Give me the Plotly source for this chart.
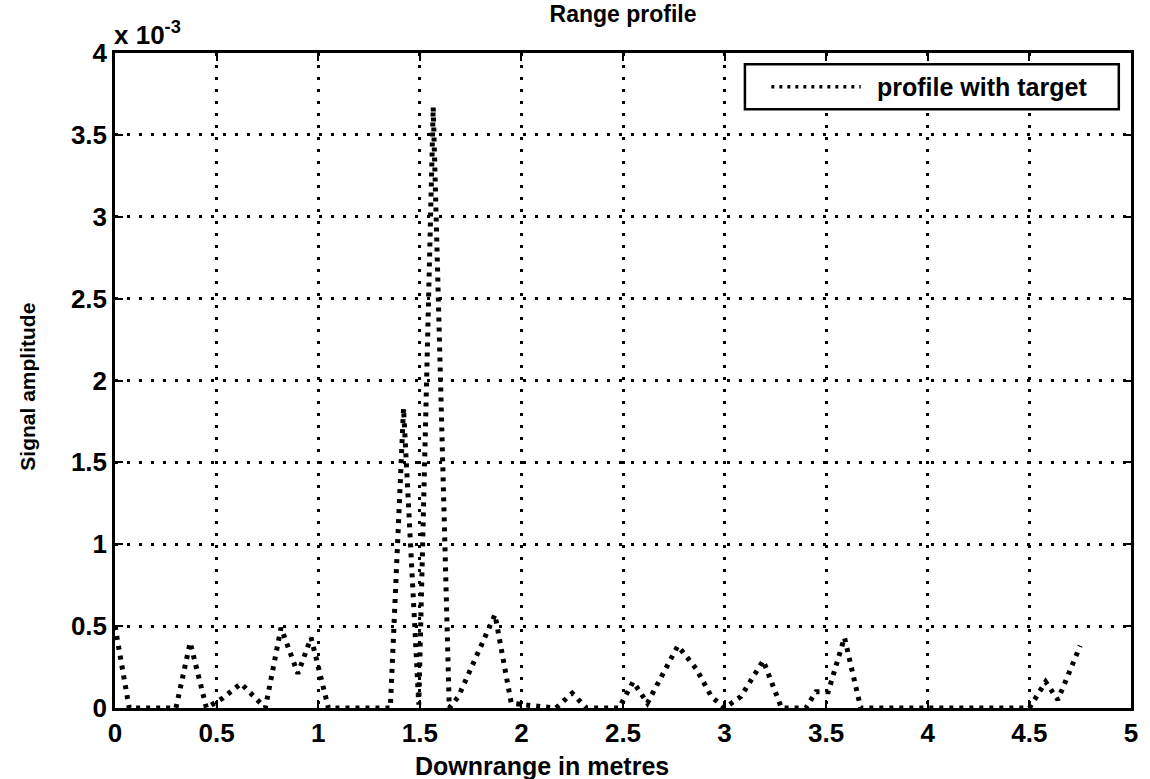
import plotly.graph_objects as go

# Range profile samples: downrange position (m) and signal amplitude (x 10^-3)
downrange = [0.00, 0.07, 0.30, 0.37, 0.45, 0.53, 0.62, 0.74, 0.817, 0.90, 0.965, 1.05,
             1.355, 1.42, 1.495, 1.566, 1.645, 1.69, 1.87, 1.95, 2.01, 2.17, 2.25, 2.32,
             2.48, 2.55, 2.62, 2.77, 2.86, 2.935, 3.00, 3.08, 3.19, 3.28, 3.40, 3.45,
             3.51, 3.59, 3.67, 4.50, 4.58, 4.64, 4.75]
amplitude = [0.50, 0.00, 0.00, 0.40, 0.00, 0.06, 0.15, 0.00, 0.49, 0.21, 0.43, 0.00,
             0.00, 1.83, 0.02, 3.67, 0.00, 0.07, 0.57, 0.03, 0.02, 0.00, 0.09, 0.00,
             0.00, 0.16, 0.03, 0.38, 0.24, 0.07, 0.00, 0.07, 0.29, 0.00, 0.00, 0.10,
             0.10, 0.43, 0.00, 0.00, 0.16, 0.05, 0.38]

x_ticks = [0, 0.5, 1, 1.5, 2, 2.5, 3, 3.5, 4, 4.5, 5]
x_labels = ["0", "0.5", "1", "1.5", "2", "2.5", "3", "3.5", "4", "4.5", "5"]
y_ticks = [0, 0.5, 1, 1.5, 2, 2.5, 3, 3.5, 4]
y_labels = ["0", "0.5", "1", "1.5", "2", "2.5", "3", "3.5", "4"]

series_name = "profile with target"
FONT = "Liberation Sans, Arial, Helvetica, sans-serif"


def bold_font(size):
    return dict(size=size, family=FONT, color="black", weight="bold")


fig = go.Figure()
fig.add_trace(go.Scatter(
    x=downrange, y=amplitude, mode="lines", name=series_name,
    line=dict(color="black", width=5, dash="4px,6px"),
    showlegend=False,
))

axis_common = dict(
    showgrid=True, gridcolor="black", gridwidth=2.5, griddash="3px,9px",
    showline=True, linecolor="black", linewidth=2.5, mirror="ticks",
    ticks="inside", ticklen=8, tickcolor="black", tickwidth=2,
    zeroline=False, tickfont=bold_font(26),
)

fig.update_xaxes(range=[0, 5], tickvals=x_ticks, ticktext=x_labels, **axis_common)
fig.update_yaxes(range=[0, 4], tickvals=y_ticks, ticktext=y_labels, **axis_common)

# axis labels
fig.add_annotation(xref="paper", yref="paper", x=0.42, y=-0.089, xanchor="center",
                   yanchor="middle", showarrow=False, text="Downrange in metres",
                   font=bold_font(25))
fig.add_annotation(xref="paper", yref="paper", x=-0.087, y=0.49, xanchor="center",
                   yanchor="middle", showarrow=False, text="Signal amplitude",
                   textangle=-90, font=bold_font(21))

# exponent marker above the y axis
fig.add_annotation(xref="paper", yref="paper", x=-0.003, y=1.03, xanchor="left",
                   yanchor="middle", showarrow=False,
                   text="x 10<sup>-3</sup>", font=bold_font(26))

# legend box
lx0, lx1, ly0, ly1 = 0.620, 0.988, 0.914, 0.983
fig.add_shape(type="rect", xref="paper", yref="paper", x0=lx0, x1=lx1, y0=ly0, y1=ly1,
              line=dict(color="black", width=2.5), fillcolor="white", layer="above")
ymid = (ly0 + ly1) / 2
fig.add_shape(type="line", xref="paper", yref="paper", x0=0.646, x1=0.734, y0=ymid, y1=ymid,
              line=dict(color="black", width=3.5, dash="3px,5px"), layer="above")
fig.add_annotation(xref="paper", yref="paper", x=0.748, y=ymid, xanchor="left",
                   yanchor="middle", showarrow=False, text=series_name,
                   font=bold_font(25))

fig.update_layout(
    width=1150, height=779,
    margin=dict(l=115, r=13, t=53, b=71),
    paper_bgcolor="white", plot_bgcolor="white",
    font=dict(family=FONT, color="black"),
    title=dict(text="Range profile", x=0.5, xref="paper", y=0.982, yanchor="middle",
               font=bold_font(23)),
    showlegend=False,
)

fig.write_html("out.html")
